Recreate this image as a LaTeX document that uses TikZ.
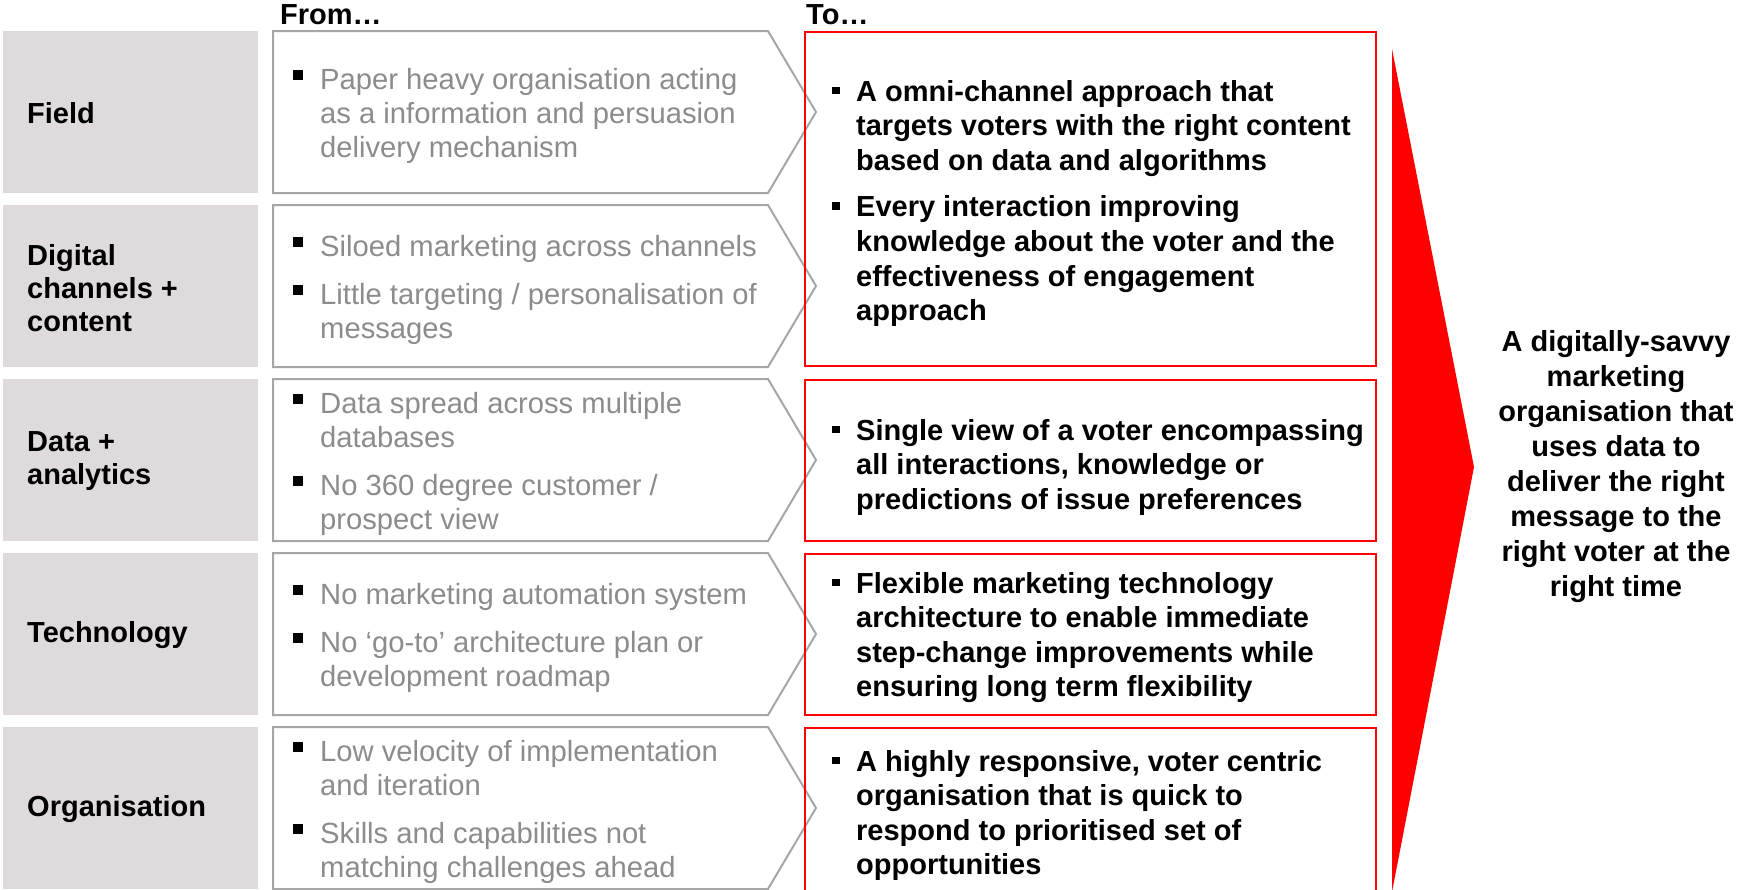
\documentclass[tikz,border=0pt]{standalone}
\usepackage{fontspec}
\setmainfont{Liberation Sans}
\definecolor{boxgray}{HTML}{DFDBDC}
\definecolor{linegray}{HTML}{A6A6A6}
\definecolor{txtgray}{HTML}{8C8C8C}
\definecolor{pptred}{HTML}{FF0000}
\newcommand{\labfont}{\fontsize{29}{33}\selectfont}
\newcommand{\fromfont}{\fontsize{29.2}{34}\selectfont}
\newcommand{\tofont}{\fontsize{29}{34.6}\selectfont}
\newcommand{\goalfont}{\fontsize{29}{35}\selectfont}
\newcommand{\grybul}{\makebox[27pt][l]{\color{black}\rule[10pt]{10pt}{10pt}}}
\newcommand{\redbul}{\makebox[24pt][l]{\rule[7pt]{7.5pt}{7.5pt}}}
\begin{document}
\begin{tikzpicture}[x=1pt,y=-1pt,
  graybox/.style={fill=boxgray, draw=none, minimum width=255pt, minimum height=162pt, inner sep=0pt, outer sep=0pt, anchor=north west},
  chevron/.style={draw=linegray, line width=2pt, fill=white, line join=miter},
  redbox/.style={draw=pptred, line width=2pt, inner sep=0pt, outer sep=0pt, anchor=north west, minimum width=571pt},
  rowlabel/.style={anchor=west, inner sep=0pt, font=\labfont\bfseries, align=left},
  fromtext/.style={anchor=west, inner sep=0pt, font=\fromfont, text=txtgray},
  totext/.style={anchor=west, inner sep=0pt, font=\tofont\bfseries, text=black},
  header/.style={anchor=base west, inner sep=0pt, font=\labfont\bfseries},
  goaltext/.style={inner sep=0pt, font=\goalfont\bfseries, align=center}
]
\useasboundingbox (0,0) rectangle (1737,889);

% headers
\node[header] (hfrom) at (280,24) {From…};
\node[header] (hto) at (806,24) {To…};

% left gray boxes
\node[graybox] (g1) at (3,31) {};
\node[graybox] (g2) at (3,205) {};
\node[graybox] (g3) at (3,379) {};
\node[graybox] (g4) at (3,553) {};
\node[graybox] (g5) at (3,727) {};

\node[rowlabel] (l1) at (27,113) {Field};
\node[rowlabel] (l2) at (27,288) {Digital\\channels +\\content};
\node[rowlabel] (l3) at (27,461) {Data +\\analytics};
\node[rowlabel] (l4) at (27,635) {Technology};
\node[rowlabel] (l5) at (27,809) {Organisation};

% chevrons
\foreach \t in {31,205,379,553,727}{
  \draw[chevron] (273,\t) -- (768,\t) -- (816,\t+81) -- (768,\t+162) -- (273,\t+162) -- cycle;
}

% from texts
\node[fromtext] (f1) at (293,117) {\begin{tabular}{@{}l@{}l@{}}
\grybul & Paper heavy organisation acting\\
 & as a information and persuasion\\
 & delivery mechanism
\end{tabular}};
\node[fromtext] (f2) at (293,291) {\begin{tabular}{@{}l@{}l@{}}
\grybul & Siloed marketing across channels\\[14pt]
\grybul & Little targeting / personalisation of\\
 & messages
\end{tabular}};
\node[fromtext] (f3) at (293,465) {\begin{tabular}{@{}l@{}l@{}}
\grybul & Data spread across multiple\\
 & databases\\[14pt]
\grybul & No 360 degree customer /\\
 & prospect view
\end{tabular}};
\node[fromtext] (f4) at (293,639) {\begin{tabular}{@{}l@{}l@{}}
\grybul & No marketing automation system\\[14pt]
\grybul & No ‘go-to’ architecture plan or\\
 & development roadmap
\end{tabular}};
\node[fromtext] (f5) at (293,813) {\begin{tabular}{@{}l@{}l@{}}
\grybul & Low velocity of implementation\\
 & and iteration\\[14pt]
\grybul & Skills and capabilities not\\
 & matching challenges ahead
\end{tabular}};

% red boxes
\node[redbox, minimum height=334pt] (r1) at (805,32) {};
\node[redbox, minimum height=161pt] (r2) at (805,380) {};
\node[redbox, minimum height=161pt] (r3) at (805,554) {};
\node[redbox, minimum height=170pt] (r4) at (805,728) {};

\node[totext] (t1) at (832,204) {\begin{tabular}{@{}l@{}l@{}}
\redbul & A omni-channel approach that\\
 & targets voters with the right content\\
 & based on data and algorithms\\[12pt]
\redbul & Every interaction improving\\
 & knowledge about the voter and the\\
 & effectiveness of engagement\\
 & approach
\end{tabular}};
\node[totext] (t2) at (832,468) {\begin{tabular}{@{}l@{}l@{}}
\redbul & Single view of a voter encompassing\\
 & all interactions, knowledge or\\
 & predictions of issue preferences
\end{tabular}};
\node[totext] (t3) at (832,638) {\begin{tabular}{@{}l@{}l@{}}
\redbul & Flexible marketing technology\\
 & architecture to enable immediate\\
 & step-change improvements while\\
 & ensuring long term flexibility
\end{tabular}};
\node[totext] (t4) at (832,816) {\begin{tabular}{@{}l@{}l@{}}
\redbul & A highly responsive, voter centric\\
 & organisation that is quick to\\
 & respond to prioritised set of\\
 & opportunities
\end{tabular}};

% red arrow
\fill[pptred] (1392,49) -- (1474,467) -- (1392,892) -- cycle;

\node[goaltext] (goal) at (1616,467) {A digitally-savvy\\marketing\\organisation that\\uses data to\\deliver the right\\message to the\\right voter at the\\right time};
\end{tikzpicture}
\end{document}
